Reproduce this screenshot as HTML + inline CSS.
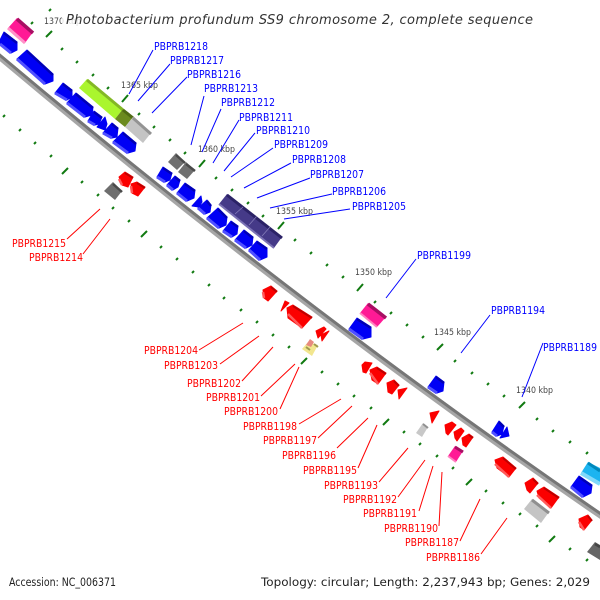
<!DOCTYPE html>
<html><head><meta charset="utf-8"><style>html,body{margin:0;padding:0;background:#fff}svg{display:block}text{font-family:"DejaVu Sans","Liberation Sans",sans-serif}.l{font-size:11px}.k{font-size:8.500px;fill:#444}</style></head><body>
<svg width="600" height="600" viewBox="0 0 600 600" xmlns="http://www.w3.org/2000/svg">
<rect width="600" height="600" fill="#fff"/>
<path d="M-4 54Q300 310 604 518" fill="none" stroke="#a6a6a6" stroke-width="6"/>
<path d="M-4 54Q300 310 604 518" fill="none" stroke="#767676" stroke-width="3" transform="translate(.9,-1.300)"/>
<path d="M49 11l2-2M31 24l2-2M46 37l6-6M61 50l2-2M76 63l2-2M92 76l2-2M107 89l2-2M122 102l6-7M138 115l2-2M153 128l2-2M169 141l2-2M184 154l2-2M199 167l6-7M215 179l2-2M231 191l2-2M247 204l2-2M262 217l2-2M278 229l6-7M294 241l2-2M310 254l2-2M326 266l2-2M342 278l2-2M357 291l6-7M374 303l2-2M390 314l2-2M406 326l2-2M422 338l2-2M437 350l6-6M454 362l2-2M471 374l2-2M487 385l2-2M503 397l2-2M519 408l6-6M536 420l2-2M552 432l2-2M569 443l2-2M586 454l2-2M3 117l2-2M19 131l2-2M34 144l2-2M50 157l2-2M62 174l6-6M81 183l2-2M97 196l2-2M112 209l2-2M128 222l2-2M141 237l6-6M160 248l2-2M176 260l2-2M192 273l2-2M208 286l2-2M223 299l2-2M240 311l2-2M256 323l2-2M272 336l2-2M288 348l2-2M301 364l6-6M321 373l2-2M337 385l2-2M353 397l2-2M370 409l2-2M383 425l6-6M403 433l2-2M419 445l2-2M436 457l2-2M452 469l2-2M466 485l6-6M485 492l2-2M502 504l2-2M519 515l2-2M536 527l2-2M549 542l6-6M569 550l2-2M586 561l2-2" stroke="#117a11" stroke-width="2" fill="none"/>
<text x="44" y="24" class="k" textLength="37" lengthAdjust="spacingAndGlyphs">1370 kbp</text>
<text x="121" y="88" class="k" textLength="37" lengthAdjust="spacingAndGlyphs">1365 kbp</text>
<text x="198" y="152" class="k" textLength="37" lengthAdjust="spacingAndGlyphs">1360 kbp</text>
<text x="276" y="214" class="k" textLength="37" lengthAdjust="spacingAndGlyphs">1355 kbp</text>
<text x="355" y="275" class="k" textLength="37" lengthAdjust="spacingAndGlyphs">1350 kbp</text>
<text x="434" y="335" class="k" textLength="37" lengthAdjust="spacingAndGlyphs">1345 kbp</text>
<text x="516" y="393" class="k" textLength="37" lengthAdjust="spacingAndGlyphs">1340 kbp</text>
<path d="M0 40L4 32 17 42 17 50 11 53 0 44ZM17 59L27 50 53 74 53 81 45 84ZM55 93L63 83 72 90 72 97 67 100ZM67 103L76 93 93 107 92 115 85 117ZM88 121L94 111 102 117 99 124 95 125ZM97 127L105 117 107 124 105 130ZM103 133L112 123 118 128 117 137 112 138ZM113 142L123 132 136 143 135 151 128 153ZM157 177L163 167 172 173 170 180 165 182ZM167 185L175 176 180 180 178 187 173 190ZM177 193L185 183 195 190 194 198 187 201ZM192 206L201 196 202 202 199 207ZM198 208L207 200 211 205 210 212 205 214ZM207 218L218 208 227 217 226 225 219 228ZM223 231L231 221 238 226 237 234 232 237ZM235 240L244 230 253 237 252 245 246 248ZM249 250L257 241 267 248 267 257 260 260ZM349 329L357 318 371 327 371 337 363 339ZM428 387L436 376 444 382 443 391 437 393ZM492 432L499 421 504 426 502 434 497 436ZM500 438L507 427 509 436ZM571 487L579 476 592 485 591 493 583 497Z" fill="#0000f5" stroke="#0000f5" stroke-linejoin="round"/>
<path d="M4 33L17 43M27 51L53 75M63 84L72 91M76 94L93 108M94 112L102 118M112 124L118 129M123 133L136 144M163 168L172 174M175 177L180 181M185 184L195 191M207 201L211 206M218 209L227 218M231 222L238 227M244 231L253 238M257 242L267 249M357 319L371 328M436 377L444 383M499 422L504 427M579 477L592 486" stroke="#0000b5" stroke-width="2.500" fill="none"/>
<path d="M0 44L11 53M17 59L45 84M55 93L67 100M67 103L85 117M88 121L95 125M103 133L112 138M113 142L128 153M157 177L165 182M167 185L173 190M177 193L187 201M198 208L205 214M207 218L219 228M223 231L232 237M235 240L246 248M249 250L260 260M349 329L363 339M428 387L437 393M492 432L497 436M571 487L583 497" stroke="#5050ff" stroke-width="3" fill="none"/>
<polygon points="581,473 588,462 600,468 600,484" fill="#1cb4f0"/><path d="M588 463L600 471" stroke="#0088bb" stroke-width="3"/><path d="M581 473L600 484" stroke="#80d8fa" stroke-width="4"/>
<polygon points="79,88 87,79 123,109 115,119" fill="#aaf52e"/><path d="M87 80L123 110" stroke="#83b825" stroke-width="3"/>
<polygon points="115,119 123,109 133,117 125,127" fill="#6b8a1e"/><path d="M123 110L133 118" stroke="#4f6a14" stroke-width="3"/>
<polygon points="125,127 133,117 151,133 143,143" fill="#c4c4c4"/><path d="M133 118L151 134" stroke="#939393" stroke-width="3"/>
<polygon points="168,162 176,153 185,162 177,170" fill="#707070"/><polygon points="178,172 186,162 195,170 187,179" fill="#707070"/><path d="M176 155L185 163M186 164L195 171" stroke="#4a4a4a" stroke-width="2.500"/>
<polygon points="104,191 113,182 122,191 115,200" fill="#6e6e6e"/><path d="M113 184L122 192" stroke="#4a4a4a" stroke-width="2.500"/>
<polygon points="587,552 595,542 600,545 600,560" fill="#666"/><path d="M595 544L600 547" stroke="#444" stroke-width="2.500"/>
<polygon points="524,509 532,499 549,512 541,523" fill="#c4c4c4"/><path d="M532 500L549 513" stroke="#8f8f8f" stroke-width="3"/>
<polygon points="416,433 423,423 428,427 422,437" fill="#c8c8c8"/><path d="M423 424L428 428" stroke="#909090" stroke-width="2"/>
<polygon points="219,204 227,194 282,237 274,248" fill="#453a88"/><path d="M227 195L282 238" stroke="#2b2266" stroke-width="3"/><path d="M219 204L274 248" stroke="#7b72b4" stroke-width="2"/><path d="M235 214L243 207M249 225L257 216M262 236L270 227" stroke="#8a82bd" stroke-width=".7"/>
<polygon points="8,28 17,18 33,32 25,43" fill="#ff1a95"/><path d="M17 19L33 33" stroke="#a80f63" stroke-width="3.500"/><path d="M8 28L25 43" stroke="#ff90c8" stroke-width="3"/>
<polygon points="360,313 368,303 386,317 377,327" fill="#ff1a95"/><path d="M368 304L386 318" stroke="#a80f63" stroke-width="3.500"/><path d="M360 313L377 327" stroke="#ff80c0" stroke-width="2"/>
<polygon points="448,456 455,446 463,451 456,462" fill="#ff1a95"/><path d="M455 447L463 452" stroke="#a80f63" stroke-width="3"/><path d="M448 456L456 462" stroke="#ff80c0" stroke-width="2"/>
<polygon points="302,349 308,342 318,345 312,356" fill="#f2e68f"/><polygon points="306,345 310,339 314,342 311,347" fill="#e88a80"/><path d="M306 347L310 350M314 344L318 347" stroke="#a09a50" stroke-width="2"/>
<path d="M119 177L125 172 133 177 128 187 122 185ZM131 184L137 182 145 187 138 196 132 193ZM263 290L271 286 277 291 268 301 264 298ZM281 311L285 301 289 303ZM287 308L293 305 312 317 302 328 288 318ZM316 331L324 327 326 329 318 338ZM321 335L329 331 322 341ZM362 365L365 362 372 363 366 373 363 372ZM370 370L377 367 386 373 378 384 372 380ZM387 383L394 380 399 385 392 394 388 392ZM398 390L407 388 399 399ZM430 413L439 411 432 423ZM445 425L452 422 456 425 448 435 446 433ZM454 432L461 428 464 431 457 441 455 438ZM462 438L469 434 473 437 466 447 463 445ZM495 460L503 457 516 468 509 477 497 468ZM525 483L533 478 538 483 530 493 527 490ZM537 491L544 487 559 497 551 508 539 498ZM579 519L588 515 592 520 584 530 580 527Z" fill="#fb0000" stroke="#fb0000" stroke-linejoin="round"/>
<path d="M125 173L133 178M137 183L145 188M271 287L277 292M293 306L312 318M377 368L386 374M394 381L399 386M469 435L473 438M503 458L516 469M533 479L538 484M544 488L559 498M588 516L592 521" stroke="#c00000" stroke-width="2" fill="none"/>
<path d="M119 179L122 185M131 186L132 193M263 292L264 298M288 314L302 328M370 373L378 384M495 464L509 477M537 495L551 508M579 522L584 530" stroke="#ff5a5a" stroke-width="2.500" fill="none"/>
<g stroke="#0000ff" stroke-width="1" fill="none"><path d="M153 50L129 94M170 64L138 101M187 77L152 113M204 96L191 145M221 109L202 152M239 120L213 163M255 133L224 171M273 148L231 177M291 163L244 188M310 178L257 198M332 194L270 208M350 209L284 219M416 259L386 298M490 315L461 353M543 343L522 397"/></g>
<g stroke="#ff0000" stroke-width="1" fill="none"><path d="M100 209L67 239M110 219L83 254M243 323L199 350M259 336L220 364M273 347L242 381M295 364L261 396M299 367L280 409M341 399L299 424M352 406L318 438M368 418L337 448M377 425L358 468M408 448L379 482M425 460L398 497M433 466L419 511M442 472L439 526M480 499L460 541M507 518L481 554"/></g>
<g fill="#0000ff" class="l">
<text x="154" y="50" textLength="54" lengthAdjust="spacingAndGlyphs">PBPRB1218</text><text x="170" y="64" textLength="54" lengthAdjust="spacingAndGlyphs">PBPRB1217</text><text x="187" y="78" textLength="54" lengthAdjust="spacingAndGlyphs">PBPRB1216</text><text x="204" y="92" textLength="54" lengthAdjust="spacingAndGlyphs">PBPRB1213</text><text x="221" y="106" textLength="54" lengthAdjust="spacingAndGlyphs">PBPRB1212</text><text x="239" y="121" textLength="54" lengthAdjust="spacingAndGlyphs">PBPRB1211</text><text x="256" y="134" textLength="54" lengthAdjust="spacingAndGlyphs">PBPRB1210</text><text x="274" y="148" textLength="54" lengthAdjust="spacingAndGlyphs">PBPRB1209</text><text x="292" y="163" textLength="54" lengthAdjust="spacingAndGlyphs">PBPRB1208</text><text x="310" y="178" textLength="54" lengthAdjust="spacingAndGlyphs">PBPRB1207</text><text x="332" y="195" textLength="54" lengthAdjust="spacingAndGlyphs">PBPRB1206</text><text x="352" y="210" textLength="54" lengthAdjust="spacingAndGlyphs">PBPRB1205</text><text x="417" y="259" textLength="54" lengthAdjust="spacingAndGlyphs">PBPRB1199</text><text x="491" y="314" textLength="54" lengthAdjust="spacingAndGlyphs">PBPRB1194</text><text x="543" y="351" textLength="54" lengthAdjust="spacingAndGlyphs">PBPRB1189</text>
</g>
<g fill="#ff0000" class="l">
<text x="12" y="247" textLength="54" lengthAdjust="spacingAndGlyphs">PBPRB1215</text><text x="29" y="261" textLength="54" lengthAdjust="spacingAndGlyphs">PBPRB1214</text><text x="144" y="354" textLength="54" lengthAdjust="spacingAndGlyphs">PBPRB1204</text><text x="164" y="369" textLength="54" lengthAdjust="spacingAndGlyphs">PBPRB1203</text><text x="187" y="387" textLength="54" lengthAdjust="spacingAndGlyphs">PBPRB1202</text><text x="206" y="401" textLength="54" lengthAdjust="spacingAndGlyphs">PBPRB1201</text><text x="224" y="415" textLength="54" lengthAdjust="spacingAndGlyphs">PBPRB1200</text><text x="243" y="430" textLength="54" lengthAdjust="spacingAndGlyphs">PBPRB1198</text><text x="263" y="444" textLength="54" lengthAdjust="spacingAndGlyphs">PBPRB1197</text><text x="282" y="459" textLength="54" lengthAdjust="spacingAndGlyphs">PBPRB1196</text><text x="303" y="474" textLength="54" lengthAdjust="spacingAndGlyphs">PBPRB1195</text><text x="324" y="489" textLength="54" lengthAdjust="spacingAndGlyphs">PBPRB1193</text><text x="343" y="503" textLength="54" lengthAdjust="spacingAndGlyphs">PBPRB1192</text><text x="363" y="517" textLength="54" lengthAdjust="spacingAndGlyphs">PBPRB1191</text><text x="384" y="532" textLength="54" lengthAdjust="spacingAndGlyphs">PBPRB1190</text><text x="405" y="546" textLength="54" lengthAdjust="spacingAndGlyphs">PBPRB1187</text><text x="426" y="561" textLength="54" lengthAdjust="spacingAndGlyphs">PBPRB1186</text>
</g>
<rect x="62" y="9" width="474" height="20" fill="#fff" fill-opacity=".8"/>
<text x="66" y="24" font-size="13" font-style="italic" fill="#333" textLength="467">Photobacterium profundum SS9 chromosome 2, complete sequence</text>
<text x="9" y="586" font-size="11.500" fill="#222" textLength="107" lengthAdjust="spacingAndGlyphs">Accession: NC_006371</text>
<text x="261" y="586" font-size="11.500" fill="#222" textLength="329" lengthAdjust="spacingAndGlyphs">Topology: circular; Length: 2,237,943 bp; Genes: 2,029</text>
</svg>
</body></html>
